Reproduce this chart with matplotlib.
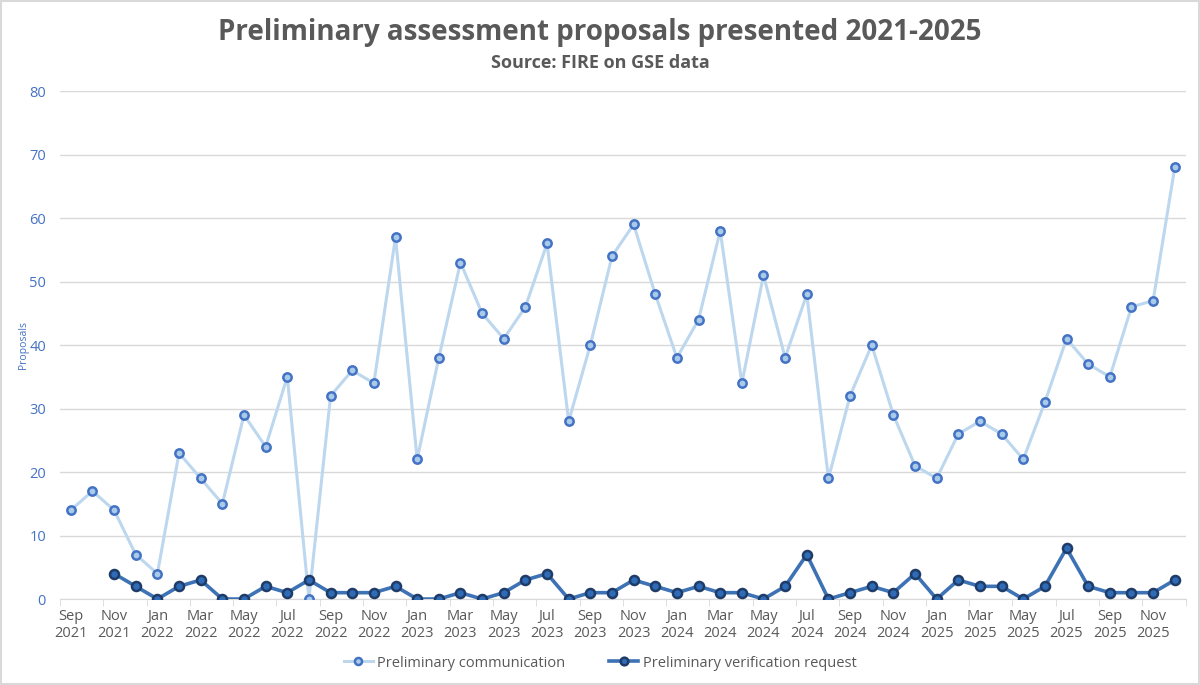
import matplotlib
matplotlib.use("Agg")
import matplotlib.pyplot as plt
import numpy as np

plt.rcParams['font.family'] = ['Open Sans', 'DejaVu Sans']

# mesi da Sep 2021 a Dec 2025
months = ["Sep", "Oct", "Nov", "Dec"] + ["Jan", "Feb", "Mar", "Apr", "May", "Jun",
                                         "Jul", "Aug", "Sep", "Oct", "Nov", "Dec"] * 4
years = ["2021"] * 4 + ["2022"] * 12 + ["2023"] * 12 + ["2024"] * 12 + ["2025"] * 12

communication = [14, 17, 14, 7,
                 4, 23, 19, 15, 29, 24, 35, 0, 32, 36, 34, 57,
                 22, 38, 53, 45, 41, 46, 56, 28, 40, 54, 59, 48,
                 38, 44, 58, 34, 51, 38, 48, 19, 32, 40, 29, 21,
                 19, 26, 28, 26, 22, 31, 41, 37, 35, 46, 47, 68]

# parte da Nov 2021
verification = [4, 2,
                0, 2, 3, 0, 0, 2, 1, 3, 1, 1, 1, 2,
                0, 0, 1, 0, 1, 3, 4, 0, 1, 1, 3, 2,
                1, 2, 1, 1, 0, 2, 7, 0, 1, 2, 1, 4,
                0, 3, 2, 2, 0, 2, 8, 2, 1, 1, 1, 3]

x = np.arange(len(months))
x_ver = x[len(months) - len(verification):]

fig = plt.figure(figsize=(12, 6.85), dpi=100)
ax = fig.add_axes([0.05, 0.1255, 0.938, 0.7415])

ax.plot(x, communication, color='#BDD7EE', lw=2.2, marker='o', ms=6,
        mfc='#A9CBEA', mec='#4472C4', mew=1.8, label='Preliminary communication', zorder=3)
ax.plot(x_ver, verification, color='#3D72B5', lw=2.6, marker='o', ms=6.5,
        mfc='#2E6CB8', mec='#1F3B68', mew=1.8, label='Preliminary verification request', zorder=4)

ax.set_xlim(-0.5, len(months) - 0.5)
ax.set_ylim(0, 80)
ax.set_yticks(range(0, 81, 10))
ax.grid(axis='y', color='#D9D9D9', lw=1)
ax.set_axisbelow(True)

ax.set_xticks(x[::2])
ax.set_xticklabels([m + "\n" + y for m, y in zip(months[::2], years[::2])])
ax.set_xticks(np.arange(-0.5, len(months), 2), minor=True)
ax.tick_params(axis='x', which='major', length=0, pad=7, labelsize=10.5, colors='#595959')
ax.tick_params(axis='x', which='minor', length=5, color='#D9D9D9')
ax.tick_params(axis='y', length=0, pad=10, labelsize=10.5, labelcolor='#4472C4')

for s in ['top', 'right', 'left']:
    ax.spines[s].set_visible(False)
ax.spines['bottom'].set_color('#D9D9D9')

ax.set_ylabel('Proposals', fontsize=7.5, color='#4472C4', labelpad=0)

fig.text(0.5, 0.953, 'Preliminary assessment proposals presented 2021-2025',
         ha='center', va='center', fontsize=20, fontweight='bold', color='#595959')
fig.text(0.5, 0.908, 'Source: FIRE on GSE data', ha='center', va='center',
         fontsize=13, fontweight='bold', color='#595959')

fig.legend(loc='center', bbox_to_anchor=(0.5, 0.032), ncol=2, frameon=False,
           fontsize=10.5, labelcolor='#595959', handlelength=2, handletextpad=0.3,
           columnspacing=3, markerscale=0.85)

fig.patches.append(plt.Rectangle((0.001, 0.001), 0.998, 0.998, transform=fig.transFigure,
                                 fill=False, ec='#D9D9D9', lw=1.5))

fig.savefig('out.png', dpi=100)
